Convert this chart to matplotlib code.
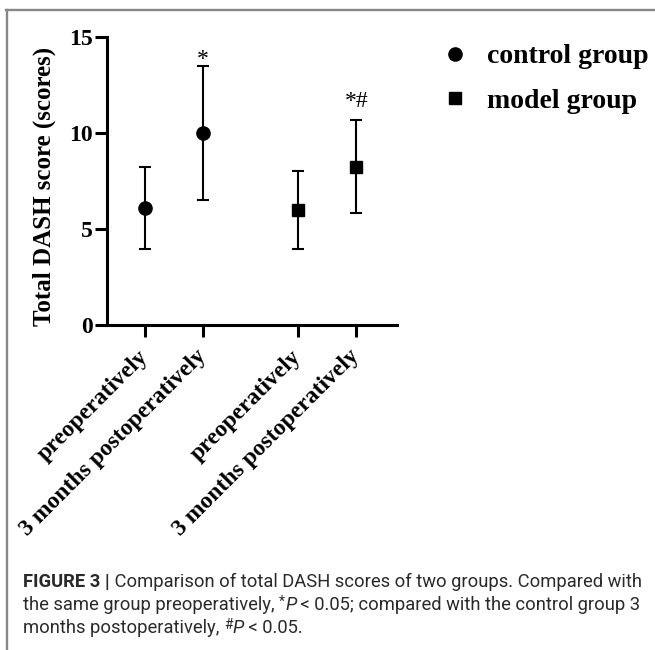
import matplotlib
matplotlib.use("Agg")
import matplotlib.pyplot as plt
from matplotlib.lines import Line2D

# group means and SDs of the total DASH score
timepoints = ["preoperatively", "3 months postoperatively"]
groups = ["control group", "model group"]
control_mean = [6.1, 10.0]
control_sd = [2.15, 3.48]
model_mean = [6.0, 8.25]
model_sd = [2.02, 2.43]
sig_marks = ["", "*", "", "*#"]

serif = "Liberation Serif"
W, H = 655, 650

fig = plt.figure(figsize=(W / 100, H / 100), dpi=100)
ax = fig.add_axes([107 / W, 1 - 325 / H, 290 / W, 288 / H])

x_ctrl = [1, 2]
x_model = [3.65, 4.65]

ax.errorbar(x_ctrl, control_mean, yerr=control_sd, fmt="o", color="black",
            markersize=9.5, elinewidth=1.5, capsize=4.5, capthick=1.5)
ax.errorbar(x_model, model_mean, yerr=model_sd, fmt="s", color="black",
            markersize=9, elinewidth=1.5, capsize=4.5, capthick=1.5)

# significance marks above the error bars
xs = x_ctrl + x_model
tops = [m + s for m, s in zip(control_mean + model_mean, control_sd + model_sd)]
offsets = [0, 1, 0, 9]
for xi, top, mark, off in zip(xs, tops, sig_marks, offsets):
    if mark:
        ax.annotate(mark, (xi, top), xytext=(0, off), textcoords="offset points",
                    ha="center", va="baseline", fontsize=17, family=serif)

ax.set_xlim(0.35, 5.35)
ax.set_ylim(0, 15)
ax.set_yticks([0, 5, 10, 15])
ax.set_xticks(xs)
ax.set_xticklabels(timepoints * 2, rotation=45, ha="right", va="center",
                   rotation_mode="anchor")

for side in ["top", "right"]:
    ax.spines[side].set_visible(False)
for side in ["left", "bottom"]:
    ax.spines[side].set_linewidth(2.2)
ax.tick_params(axis="both", width=2.2, length=8.5)
ax.tick_params(axis="y", pad=2, labelsize=17)
ax.tick_params(axis="x", pad=12, labelsize=17)
for lab in ax.get_xticklabels() + ax.get_yticklabels():
    lab.set_family(serif)
    lab.set_fontweight("bold")

ax.set_ylabel("Total DASH score (scores)", family=serif, fontweight="bold",
              fontsize=18)
ax.yaxis.set_label_coords(-0.176, 0.48)

# legend
handles = [Line2D([], [], marker="o", ls="none", color="black", markersize=9.5),
           Line2D([], [], marker="s", ls="none", color="black", markersize=9)]
fig.legend(handles, groups, loc="upper left",
           bbox_to_anchor=(441 / W, 1 - 44 / H), frameon=False,
           prop={"family": serif, "weight": "bold", "size": 20},
           handlelength=1.0, handletextpad=0.65, labelspacing=0.68,
           borderpad=0, borderaxespad=0)

# frame around the figure panel
frame_kw = dict(color="#888888", lw=1.7, transform=fig.transFigure)
fig.add_artist(Line2D([6 / W, 1], [1 - 9.5 / H, 1 - 9.5 / H], **frame_kw))
fig.add_artist(Line2D([7 / W, 7 / W], [0, 1 - 9.5 / H], **frame_kw))

# caption, built piece by piece so bold / italic / raised parts can mix
cap_font = "Roboto"
cap_size = 13.2
cap_color = "#2a2a2a"
renderer = fig.canvas.get_renderer()


def caption_line(pieces, x0, y_base):
    x = x0
    for text, style in pieces:
        kw = dict(family=cap_font, size=cap_size, color=cap_color,
                  weight="normal", va="baseline", ha="left")
        dy = 0
        if style == "bold":
            kw["weight"] = "bold"
        elif style == "italic":
            kw["style"] = "italic"
        elif style == "sup":
            kw["size"] = cap_size * 0.75
            dy = 4
        t = fig.text(x / W, (H - y_base + dy) / H, text, **kw)
        x += t.get_window_extent(renderer).width


caption_line([("FIGURE 3 |", "bold"),
              (" Comparison of total DASH scores of two groups. Compared with", "")],
             23, 587)
caption_line([("the same group preoperatively, ", ""), ("*", "sup"), ("P", "italic"),
              (" < 0.05; compared with the control group 3", "")], 23, 610)
caption_line([("months postoperatively, ", ""), ("#", "sup"), ("P", "italic"),
              (" < 0.05.", "")], 23, 633)

fig.savefig("out.png", dpi=100)
